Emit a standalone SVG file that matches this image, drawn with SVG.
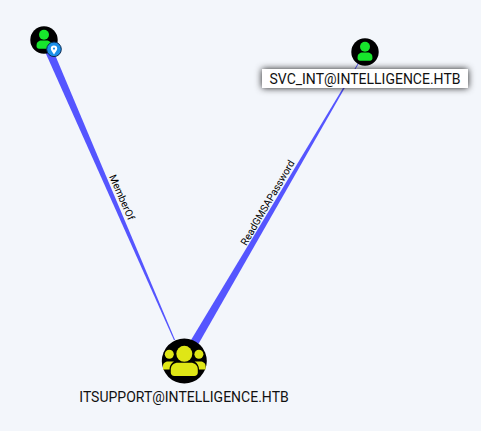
<svg xmlns="http://www.w3.org/2000/svg" width="481" height="431" viewBox="0 0 481 431">
<defs>
<style>
text{font-family:Roboto,"Liberation Sans",sans-serif;fill:#111}
.node{font-size:14px;text-anchor:middle}
.edge{font-size:10.2px;text-anchor:middle;fill:#000}
.wedge{fill:#5555ff}
.green{fill:#17e62c}
.yellow{fill:#dfe616}
</style>
<filter id="sh" x="-10%" y="-60%" width="120%" height="220%"><feDropShadow dx="0" dy="0" stdDeviation="3.500" flood-color="#000" flood-opacity="0.9"/></filter>
<g id="user"><circle cx="0" cy="0" r="13.700" fill="#000"/><circle cx="0" cy="-5.300" r="5" class="green"/><path d="M-7.400 5.200C-7.400 2-5 .5-2.500 .5H2.500C5 .5 7.400 2 7.400 5.200V6.300C7.400 7.800 6.400 8.800 5 8.800H-5C-6.400 8.800-7.400 7.800-7.400 6.300Z" class="green"/></g>
</defs>
<rect width="481" height="431" fill="#f3f6fb"/>
<g id="connectors">
<polygon class="wedge" points="39.800,40 48.800,40 175.100,340 173.900,340"/>
<polygon class="wedge" points="364.700,52 365.300,52 195,350 185,350"/>
<text class="edge" transform="translate(121.500,197.500) rotate(66.500)" x="0" y="3">MemberOf</text>
<text class="edge" transform="translate(268,203) rotate(-59.700)" x="0" y="3">ReadGMSAPassword</text>
</g>
<g id="node-member">
<use href="#user" x="44" y="40"/>
<circle cx="54" cy="49.300" r="7.300" fill="#1a8fe8" stroke="#0b2a52" stroke-width="1"/>
<path d="M54 54.500C52 51.800 50.800 50.300 50.800 48.600A3.200 3.200 0 0 1 57.200 48.600C57.200 50.300 56 51.800 54 54.500Z" fill="#fff"/>
<circle cx="54" cy="48.600" r="1.100" fill="#1a8fe8"/>
</g>
<g id="node-svc">
<use href="#user" x="365" y="52"/>
<rect x="262" y="69" width="206" height="19" fill="#fff" filter="url(#sh)"/>
<text class="node" x="365" y="84">SVC_INT@INTELLIGENCE.HTB</text>
</g>
<g id="node-itsupport">
<circle cx="184.300" cy="361" r="22.500" fill="#000"/>
<circle cx="184.300" cy="353.800" r="8" class="yellow"/>
<circle cx="169.300" cy="354.300" r="4.500" class="yellow"/>
<circle cx="198.900" cy="354.300" r="4.500" class="yellow"/>
<path d="M163 369.500V366C163 363 165.500 361.500 168 361.500H174C171 363.500 169.500 366 169.500 369.500Z" class="yellow"/>
<path d="M205.600 369.500V366C205.600 363 203 361.500 200.600 361.500H194.600C197.600 363.500 199 366 199 369.500Z" class="yellow"/>
<path d="M170.800 369.500C170.800 365 174 362.700 178 362.700H190.600C194.600 362.700 197.800 365 197.800 369.500V372.500C197.800 374.700 196.300 376 194.300 376H174.300C172.300 376 170.800 374.700 170.800 372.500Z" class="yellow"/>
<text class="node" x="184" y="402">ITSUPPORT@INTELLIGENCE.HTB</text>
</g>
</svg>
